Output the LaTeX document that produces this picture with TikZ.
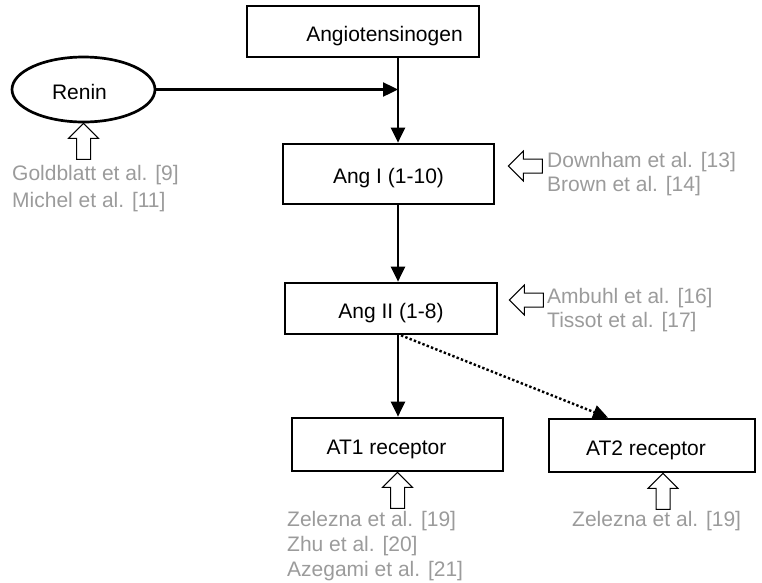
\documentclass[tikz,border=0pt]{standalone}
\usepackage{fontspec}
\setmainfont{Liberation Sans}
\usetikzlibrary{arrows.meta,shapes.geometric}
\definecolor{refgray}{RGB}{155,155,155}
\begin{document}
\begin{tikzpicture}[x=1pt,y=-1pt,
  box/.style={draw,line width=2.7pt,inner sep=0pt,text height=19pt,text depth=0pt,font=\fontsize{21}{25}\selectfont},
  oval/.style={ellipse,draw,line width=2.7pt,inner sep=0pt,text height=19pt,text depth=0pt,font=\fontsize{21}{25}\selectfont},
  conn/.style={line width=2.4pt,-{Triangle[length=15pt,width=14pt]}},
  dotconn/.style={conn,dash pattern=on 2.4pt off 2.2pt},
  ref/.style={text=refgray,align=left,inner sep=0pt,anchor=north west},
  hollow/.style={draw,line width=1pt,fill=white,line join=miter},
  pics/uparrow/.style={code={\path[hollow] (0,0) -- (15,15) -- (7,15) -- (7,36) -- (-7,36) -- (-7,15) -- (-15,15) -- cycle;}},
  pics/leftarrow/.style={code={\path[hollow] (0,0) -- (15,-15) -- (15,-7) -- (34,-7) -- (34,7) -- (15,7) -- (15,15) -- cycle;}}
]
\useasboundingbox (0,0) rectangle (762,582);

% main nodes
\node[box,minimum width=232pt,minimum height=51pt] (ago) at (363,31.5) {\hspace*{43pt}Angiotensinogen};
\node[oval,minimum width=143pt,minimum height=65pt] (renin) at (83.5,89.5) {Renin\hspace*{8pt}};
\node[box,minimum width=211pt,minimum height=60pt] (angI) at (388.5,174) {Ang I (1-10)};
\node[box,minimum width=212pt,minimum height=51pt] (angII) at (391,308.5) {Ang II (1-8)};
\node[box,minimum width=211pt,minimum height=53pt] (at1) at (397.5,444.5) {AT1 receptor\hspace*{22pt}};
\node[box,minimum width=206pt,minimum height=53pt] (at2) at (652,445.5) {AT2 receptor\hspace*{12pt}};

\coordinate (j) at (398,89.5);

% connectors
\draw[line width=2.4pt] (ago.south -| j) -- (j);
\draw[conn] (j) -- (angI.north -| j);
\draw[conn] (renin.east) -- (j);
\draw[conn] (angI.south -| j) -- (angII.north -| j);
\draw[conn] (angII.south -| j) -- (at1.north -| j);
\draw[dotconn] ([xshift=3pt]angII.south -| j) -- ([xshift=-44pt]at2.north);

% hollow arrows
\pic at (renin.south) {uparrow};
\pic at ([shift={(13,-8)}]angI.east) {leftarrow};
\pic at ([shift={(11,-8.5)}]angII.east) {leftarrow};
\pic at (at1.south) {uparrow};
\pic at ([xshift=11pt]at2.south) {uparrow};

% references
\node[ref,font=\fontsize{21}{27}\selectfont] (refrenin) at (12,165.5) {Goldblatt et al. [9]\\Michel et al. [11]};
\node[ref,font=\fontsize{21}{24}\selectfont] (refangI) at (547,152.5) {Downham et al. [13]\\Brown et al. [14]};
\node[ref,font=\fontsize{21}{24}\selectfont] (refangII) at (547,288.5) {Ambuhl et al. [16]\\Tissot et al. [17]};
\node[ref,font=\fontsize{21}{25}\selectfont] (refat1) at (287,511.5) {Zelezna et al. [19]\\Zhu et al. [20]\\Azegami et al. [21]};
\node[ref,font=\fontsize{21}{25}\selectfont] (refat2) at (572,511.5) {Zelezna et al. [19]};
\end{tikzpicture}
\end{document}
